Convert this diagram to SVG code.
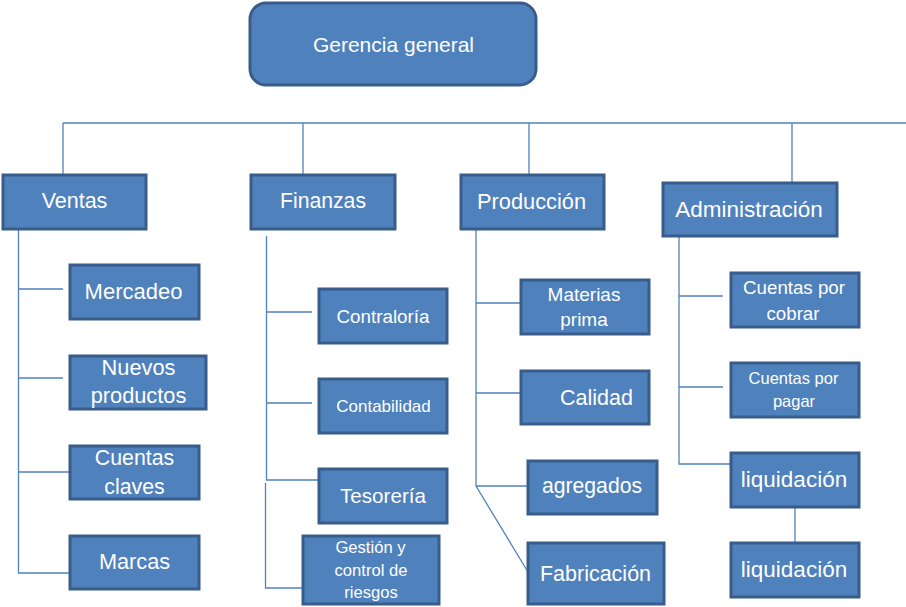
<svg xmlns="http://www.w3.org/2000/svg" width="906" height="607" viewBox="0 0 906 607">
<style>
.box{fill:#4F81BD;stroke:#385D8A;stroke-width:3}
.t{font-family:"Liberation Sans",Arial,sans-serif;fill:#FFFFFF;text-anchor:middle}
.c{fill:none;stroke:#4F81BD;stroke-width:1.3}
</style>
<rect width="906" height="607" fill="#FFFFFF"/>
<g id="connectors">
<path class="c" d="M63 123H906M63 123V175M303 123V175M529 123V175M792 123V183"/>
<path class="c" d="M18.5 229V573H70M18.5 289H63M18.5 378H63M18.5 472H70"/>
<path class="c" d="M266.5 236V480H318M266.5 312H312M266.5 403H312M265.5 483V588H303"/>
<path class="c" d="M476 229V486H528M476 303H521M476 393H521M476 486L528 572"/>
<path class="c" d="M679 236V464H731M679 296H723M679 387H723M795 507V543"/>
</g>
<g id="gerencia">
<rect class="box" x="250" y="3" width="286" height="82" rx="16"/>
<text class="t" x="393.5" y="52" font-size="21">Gerencia general</text>
</g>
<g id="ventas">
<rect class="box" x="3" y="175" width="143" height="54"/>
<text class="t" x="74.5" y="208" font-size="21.5">Ventas</text>
</g>
<g id="finanzas">
<rect class="box" x="251" y="175" width="144" height="54"/>
<text class="t" x="323" y="208" font-size="21.2">Finanzas</text>
</g>
<g id="produccion">
<rect class="box" x="461" y="175" width="143" height="54"/>
<text class="t" x="531.5" y="209" font-size="21.8">Producción</text>
</g>
<g id="administracion">
<rect class="box" x="663" y="183" width="174" height="53"/>
<text class="t" x="749" y="217" font-size="22.5">Administración</text>
</g>
<g id="mercadeo">
<rect class="box" x="70" y="265" width="129" height="54"/>
<text class="t" x="133.5" y="299" font-size="22">Mercadeo</text>
</g>
<g id="nuevos">
<rect class="box" x="70" y="356" width="136" height="53"/>
<text class="t" x="138.5" y="375" font-size="21.8">Nuevos</text>
<text class="t" x="138.5" y="403" font-size="21.8">productos</text>
</g>
<g id="cuentasclaves">
<rect class="box" x="70" y="446" width="129" height="53"/>
<text class="t" x="134.5" y="465" font-size="21.3">Cuentas</text>
<text class="t" x="134.5" y="494" font-size="21.3">claves</text>
</g>
<g id="marcas">
<rect class="box" x="70" y="536" width="129" height="53"/>
<text class="t" x="134.5" y="569" font-size="21.7">Marcas</text>
</g>
<g id="contraloria">
<rect class="box" x="319" y="289" width="128" height="54"/>
<text class="t" x="383" y="323" font-size="18.8">Contraloría</text>
</g>
<g id="contabilidad">
<rect class="box" x="319" y="379" width="128" height="54"/>
<text class="t" x="383.5" y="412" font-size="17">Contabilidad</text>
</g>
<g id="tesoreria">
<rect class="box" x="319" y="469" width="128" height="54"/>
<text class="t" x="383" y="503" font-size="20.6">Tesorería</text>
</g>
<g id="gestion">
<rect class="box" x="303" y="536" width="136" height="68"/>
<text class="t" x="370.5" y="553" font-size="16.6">Gestión y</text>
<text class="t" x="371" y="576" font-size="16.6">control de</text>
<text class="t" x="371" y="598" font-size="16.6">riesgos</text>
</g>
<g id="materias">
<rect class="box" x="521" y="280" width="128" height="54"/>
<text class="t" x="584" y="301" font-size="19">Materias</text>
<text class="t" x="584" y="326" font-size="19">prima</text>
</g>
<g id="calidad">
<rect class="box" x="521" y="371" width="128" height="53"/>
<text class="t" x="596.5" y="405" font-size="21.5">Calidad</text>
</g>
<g id="agregados">
<rect class="box" x="528" y="461" width="129" height="53"/>
<text class="t" x="592" y="493" font-size="21.2">agregados</text>
</g>
<g id="fabricacion">
<rect class="box" x="528" y="543" width="136" height="61"/>
<text class="t" x="595.5" y="581" font-size="21.5">Fabricación</text>
</g>
<g id="cobrar">
<rect class="box" x="731" y="273" width="128" height="54"/>
<text class="t" x="794" y="294" font-size="18.7">Cuentas por</text>
<text class="t" x="793" y="320" font-size="18.7">cobrar</text>
</g>
<g id="pagar">
<rect class="box" x="731" y="363" width="128" height="54"/>
<text class="t" x="793.5" y="384" font-size="16.5">Cuentas por</text>
<text class="t" x="794" y="407" font-size="16.5">pagar</text>
</g>
<g id="liquidacion1">
<rect class="box" x="731" y="453" width="128" height="54"/>
<text class="t" x="794" y="487" font-size="22.5">liquidación</text>
</g>
<g id="liquidacion2">
<rect class="box" x="731" y="543" width="128" height="54"/>
<text class="t" x="794" y="577" font-size="22.5">liquidación</text>
</g>
</svg>
